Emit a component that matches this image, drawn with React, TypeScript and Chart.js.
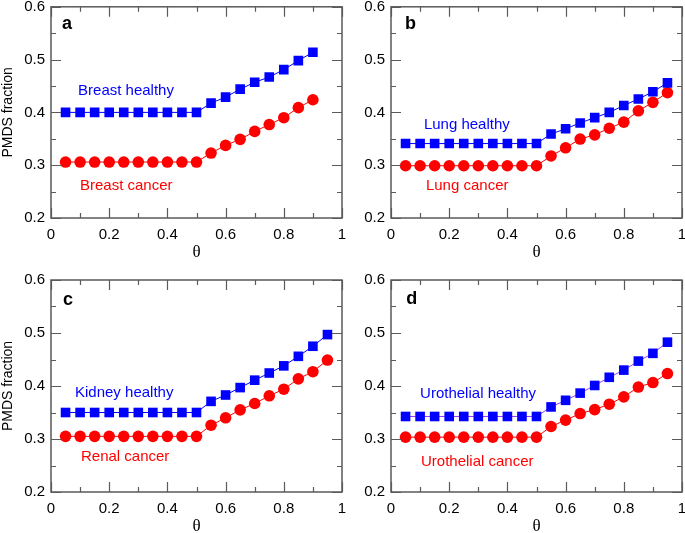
import React, { useEffect, useRef } from "react";
import { Chart, registerables } from "chart.js";

Chart.register(...registerables);

// ---------- data ----------
const thetaA = [0.05, 0.1, 0.15, 0.2, 0.25, 0.3, 0.35, 0.4, 0.45, 0.5, 0.55, 0.6, 0.65, 0.7, 0.75, 0.8, 0.85, 0.9];
const thetaB = [0.05, 0.1, 0.15, 0.2, 0.25, 0.3, 0.35, 0.4, 0.45, 0.5, 0.55, 0.6, 0.65, 0.7, 0.75, 0.8, 0.85, 0.9, 0.95];

const breastHealthy = [0.4, 0.4, 0.4, 0.4, 0.4, 0.4, 0.4, 0.4, 0.4, 0.4, 0.4175, 0.429, 0.444, 0.457, 0.467, 0.481, 0.498, 0.514];
const breastCancer = [0.306, 0.306, 0.306, 0.306, 0.306, 0.306, 0.306, 0.306, 0.306, 0.306, 0.323, 0.3375, 0.349, 0.364, 0.377, 0.39, 0.409, 0.424];

const lungHealthy = [0.341, 0.341, 0.341, 0.341, 0.341, 0.341, 0.341, 0.341, 0.341, 0.341, 0.359, 0.369, 0.38, 0.39, 0.4, 0.413, 0.4255, 0.439, 0.456];
const lungCancer = [0.299, 0.299, 0.299, 0.299, 0.299, 0.299, 0.299, 0.299, 0.299, 0.299, 0.3175, 0.333, 0.3495, 0.3575, 0.37, 0.3815, 0.403, 0.419, 0.4375];

const kidneyHealthy = [0.35, 0.35, 0.35, 0.35, 0.35, 0.35, 0.35, 0.35, 0.35, 0.35, 0.371, 0.383, 0.397, 0.411, 0.4245, 0.438, 0.456, 0.475, 0.497];
const renalCancer = [0.305, 0.305, 0.305, 0.305, 0.305, 0.305, 0.305, 0.305, 0.305, 0.305, 0.326, 0.34, 0.355, 0.367, 0.3815, 0.394, 0.4135, 0.427, 0.449];

const urothelialHealthy = [0.3425, 0.3425, 0.3425, 0.3425, 0.3425, 0.3425, 0.3425, 0.3425, 0.3425, 0.3425, 0.3605, 0.373, 0.3866, 0.401, 0.4164, 0.43, 0.447, 0.4616, 0.4827];
const urothelialCancer = [0.3035, 0.3035, 0.3035, 0.3035, 0.3035, 0.3035, 0.3035, 0.3035, 0.3035, 0.3035, 0.3236, 0.3357, 0.348, 0.3555, 0.3657, 0.3795, 0.398, 0.4065, 0.4235];

const xMajorTicks = [0, 0.2, 0.4, 0.6, 0.8, 1];
const xMinorTicks = [0.1, 0.3, 0.5, 0.7, 0.9];
const yMajorTicks = [0.2, 0.3, 0.4, 0.5, 0.6];
const yMinorTicks = [0.25, 0.35, 0.45, 0.55];

const panelLetters = ["a", "b", "c", "d"];
const healthyLabels = ["Breast healthy", "Lung healthy", "Kidney healthy", "Urothelial healthy"];
const cancerLabels = ["Breast cancer", "Lung cancer", "Renal cancer", "Urothelial cancer"];

// ---------- styles ----------
const SANS = '"Liberation Sans", Arial, Helvetica, sans-serif';
const SERIF = '"Liberation Serif", "Times New Roman", serif';
const AXIS = "#5a5a5a";
const BLUE = "#0000ff";
const RED = "#ff0000";

const fmt = (v: number) => {
  const r = Math.round(v * 10) / 10;
  if (r === 0) return "0";
  if (r === 1) return "1";
  return r.toFixed(1);
};

const framePlugin = {
  id: "frame",
  afterDraw(chart: any, _args: any, opts: any) {
    const { ctx, chartArea } = chart;
    const { left, right, top, bottom } = chartArea;
    const x = chart.scales.x;
    const y = chart.scales.y;
    ctx.save();
    ctx.strokeStyle = AXIS;
    ctx.lineWidth = 1.5;
    ctx.strokeRect(left, top, right - left, bottom - top);
    ctx.lineWidth = 1.2;
    const major = 10;
    const minor = 5;
    const vtick = (v: number, len: number) => {
      const px = Math.round(x.getPixelForValue(v)) + 0.5;
      ctx.beginPath();
      ctx.moveTo(px, bottom);
      ctx.lineTo(px, bottom - len);
      ctx.moveTo(px, top);
      ctx.lineTo(px, top + len);
      ctx.stroke();
    };
    const htick = (v: number, len: number) => {
      const py = Math.round(y.getPixelForValue(v)) + 0.5;
      ctx.beginPath();
      ctx.moveTo(left, py);
      ctx.lineTo(left + len, py);
      ctx.moveTo(right, py);
      ctx.lineTo(right - len, py);
      ctx.stroke();
    };
    xMajorTicks.forEach((v) => vtick(v, major));
    xMinorTicks.forEach((v) => vtick(v, minor));
    yMajorTicks.forEach((v) => htick(v, major));
    yMinorTicks.forEach((v) => htick(v, minor));

    ctx.textAlign = "left";
    ctx.textBaseline = "middle";
    (opts.labels || []).forEach((l: any) => {
      ctx.font = l.font;
      ctx.fillStyle = l.color;
      ctx.fillText(l.text, x.getPixelForValue(l.x), y.getPixelForValue(l.y));
    });
    ctx.restore();
  },
};

type PanelCfg = {
  theta: number[];
  healthy: number[];
  cancer: number[];
  letter: string;
  healthyLabel: string;
  cancerLabel: string;
  letterPos: [number, number];
  healthyPos: [number, number];
  cancerPos: [number, number];
  healthyLine: string;
  left: number;
  top: number;
  height: number;
  padTop: number;
  padBottom: number;
  padRight: number;
  yWidth: number;
  yTitle: boolean;
};

function Panel({ cfg }: { cfg: PanelCfg }) {
  const ref = useRef<HTMLCanvasElement>(null);
  useEffect(() => {
    const chart = new Chart(ref.current as HTMLCanvasElement, {
      type: "line",
      data: {
        datasets: [
          {
            data: cfg.theta.map((t, i) => ({ x: t, y: cfg.healthy[i] })),
            borderColor: cfg.healthyLine,
            borderWidth: 1,
            backgroundColor: BLUE,
            pointBackgroundColor: BLUE,
            pointBorderColor: BLUE,
            pointBorderWidth: 0,
            pointStyle: "rect",
            pointRadius: 6.8,
          },
          {
            data: cfg.theta.map((t, i) => ({ x: t, y: cfg.cancer[i] })),
            borderColor: RED,
            borderWidth: 1,
            backgroundColor: RED,
            pointBackgroundColor: RED,
            pointBorderColor: RED,
            pointBorderWidth: 0,
            pointStyle: "circle",
            pointRadius: 5.8,
          },
        ],
      },
      options: {
        animation: false,
        responsive: false,
        layout: { padding: { left: 0, top: cfg.padTop, right: cfg.padRight, bottom: cfg.padBottom } },
        plugins: {
          legend: { display: false },
          tooltip: { enabled: false },
          frame: {
            labels: [
              { text: cfg.letter, x: cfg.letterPos[0], y: cfg.letterPos[1], font: `bold 18px ${SANS}`, color: "#000" },
              { text: cfg.healthyLabel, x: cfg.healthyPos[0], y: cfg.healthyPos[1], font: `15px ${SANS}`, color: BLUE },
              { text: cfg.cancerLabel, x: cfg.cancerPos[0], y: cfg.cancerPos[1], font: `15px ${SANS}`, color: RED },
            ],
          },
        } as any,
        scales: {
          x: {
            type: "linear",
            min: 0,
            max: 1,
            grid: { display: false, drawTicks: false },
            border: { display: false },
            ticks: {
              stepSize: 0.2,
              padding: 8,
              color: "#000",
              maxRotation: 0,
              autoSkip: false,
              font: { family: SANS, size: 15 },
              callback: (v: any) => fmt(Number(v)),
            },
            title: {
              display: true,
              text: "θ",
              color: "#000",
              font: { family: SERIF, size: 17 },
              padding: { top: 0, bottom: 4 },
            },
            afterFit: (s: any) => {
              s.height = 49;
              s.paddingLeft = 0;
              s.paddingRight = 0;
            },
          },
          y: {
            type: "linear",
            min: 0.2,
            max: 0.6,
            grid: { display: false, drawTicks: false },
            border: { display: false },
            ticks: {
              stepSize: 0.1,
              padding: 6,
              color: "#000",
              font: { family: SANS, size: 15 },
              callback: (v: any) => fmt(Number(v)),
            },
            title: {
              display: cfg.yTitle,
              text: "PMDS fraction",
              color: "#000",
              font: { family: SANS, size: 14 },
              padding: { top: 0, bottom: 0 },
            },
            afterFit: (s: any) => {
              s.width = cfg.yWidth;
              s.paddingTop = 0;
              s.paddingBottom = 0;
            },
          },
        },
      },
      plugins: [framePlugin as any],
    } as any);
    return () => chart.destroy();
  }, []);
  return (
    <canvas
      ref={ref}
      width={350}
      height={cfg.height}
      style={{ position: "absolute", left: cfg.left, top: cfg.top, width: 350, height: cfg.height }}
    />
  );
}

const panels: PanelCfg[] = [
  {
    theta: thetaA, healthy: breastHealthy, cancer: breastCancer,
    letter: panelLetters[0], healthyLabel: healthyLabels[0], cancerLabel: cancerLabels[0],
    letterPos: [0.038, 0.568], healthyPos: [0.093, 0.4415], cancerPos: [0.0997, 0.26],
    healthyLine: BLUE,
    left: 0, top: 0, height: 270, padTop: 6, padBottom: 3, padRight: 8, yWidth: 51, yTitle: true,
  },
  {
    theta: thetaB, healthy: lungHealthy, cancer: lungCancer,
    letter: panelLetters[1], healthyLabel: healthyLabels[1], cancerLabel: cancerLabels[1],
    letterPos: [0.048, 0.568], healthyPos: [0.113, 0.3755], cancerPos: [0.12, 0.26],
    healthyLine: BLUE,
    left: 345, top: 0, height: 270, padTop: 6, padBottom: 3, padRight: 13, yWidth: 46, yTitle: false,
  },
  {
    theta: thetaB, healthy: kidneyHealthy, cancer: renalCancer,
    letter: panelLetters[2], healthyLabel: healthyLabels[2], cancerLabel: cancerLabels[2],
    letterPos: [0.041, 0.562], healthyPos: [0.0825, 0.3868], cancerPos: [0.103, 0.266],
    healthyLine: BLUE,
    left: 0, top: 270, height: 271, padTop: 10, padBottom: 0, padRight: 8, yWidth: 51, yTitle: true,
  },
  {
    theta: thetaB, healthy: urothelialHealthy, cancer: urothelialCancer,
    letter: panelLetters[3], healthyLabel: healthyLabels[3], cancerLabel: cancerLabels[3],
    letterPos: [0.052, 0.564], healthyPos: [0.1, 0.385], cancerPos: [0.103, 0.2566],
    healthyLine: "#9a3cf0",
    left: 345, top: 270, height: 271, padTop: 10, padBottom: 0, padRight: 13, yWidth: 46, yTitle: false,
  },
];

export default function App() {
  return (
    <div
      style={{
        position: "fixed",
        left: 0,
        top: 0,
        width: 685,
        height: 533,
        overflow: "hidden",
        background: "#fff",
      }}
    >
      {panels.map((p, i) => (
        <Panel key={i} cfg={p} />
      ))}
    </div>
  );
}
